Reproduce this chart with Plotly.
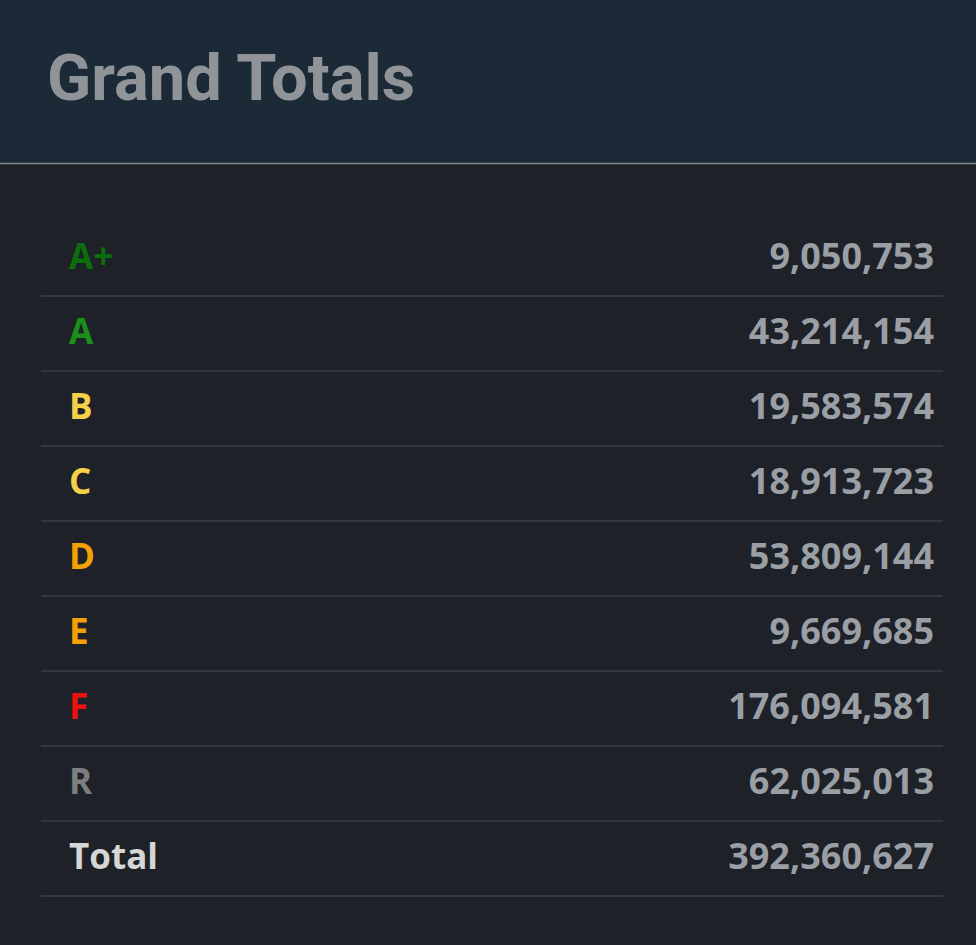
import plotly.graph_objects as go

grades = ["A+", "A", "B", "C", "D", "E", "F", "R", "Total"]
values = [9050753, 43214154, 19583574, 18913723, 53809144, 9669685, 176094581, 62025013, 392360627]
grade_colors = ["#0b6e0b", "#1a8f1a", "#f7d04a", "#f7d04a", "#f5a100", "#f5a100", "#ec1111", "#7c7e80", "#d6d6d6"]
title = "Grand Totals"

W, H = 976, 945
row0, step = 260, 75
ys = [row0 + step * i for i in range(len(grades))]

fig = go.Figure()
fig.add_trace(go.Scatter(
    x=[69] * len(grades), y=ys, mode="text", text=grades,
    textposition="middle right",
    textfont=dict(family="Open Sans", size=35, color=grade_colors, weight="bold"),
    hoverinfo="skip"))
fig.add_trace(go.Scatter(
    x=[934] * len(values), y=ys, mode="text", text=[f"{v:,}" for v in values],
    textposition="middle left",
    textfont=dict(family="Open Sans", size=36, color="#9a9ea5", weight="bold"),
    hoverinfo="skip"))

shapes = [
    dict(type="rect", xref="x", yref="y", x0=0, x1=W, y0=0, y1=163, fillcolor="#1c2a38", line_width=0, layer="below"),
    dict(type="line", xref="x", yref="y", x0=0, x1=W, y0=163.5, y1=163.5, line=dict(color="#7d8a8a", width=1.5)),
]
for y in ys:
    shapes.append(dict(type="line", xref="x", yref="y", x0=41, x1=943, y0=y + 36, y1=y + 36,
                       line=dict(color="#3b3e42", width=1.5)))

fig.update_layout(
    width=W, height=H, margin=dict(l=0, r=0, t=0, b=0),
    paper_bgcolor="#1e2128", plot_bgcolor="#1e2128", showlegend=False,
    xaxis=dict(range=[0, W], visible=False, fixedrange=True),
    yaxis=dict(range=[H, 0], visible=False, fixedrange=True),
    shapes=shapes,
    annotations=[dict(text=f"<b>{title}</b>", x=45, y=78, xref="x", yref="y", xanchor="left", yanchor="middle",
                      showarrow=False, font=dict(family="Roboto", size=65, color="#909398"))],
)
fig.write_html("out.html", config={"displayModeBar": False},
               post_script="document.body.style.margin='0';document.body.style.background='#1e2128';document.body.style.overflow='hidden';")
